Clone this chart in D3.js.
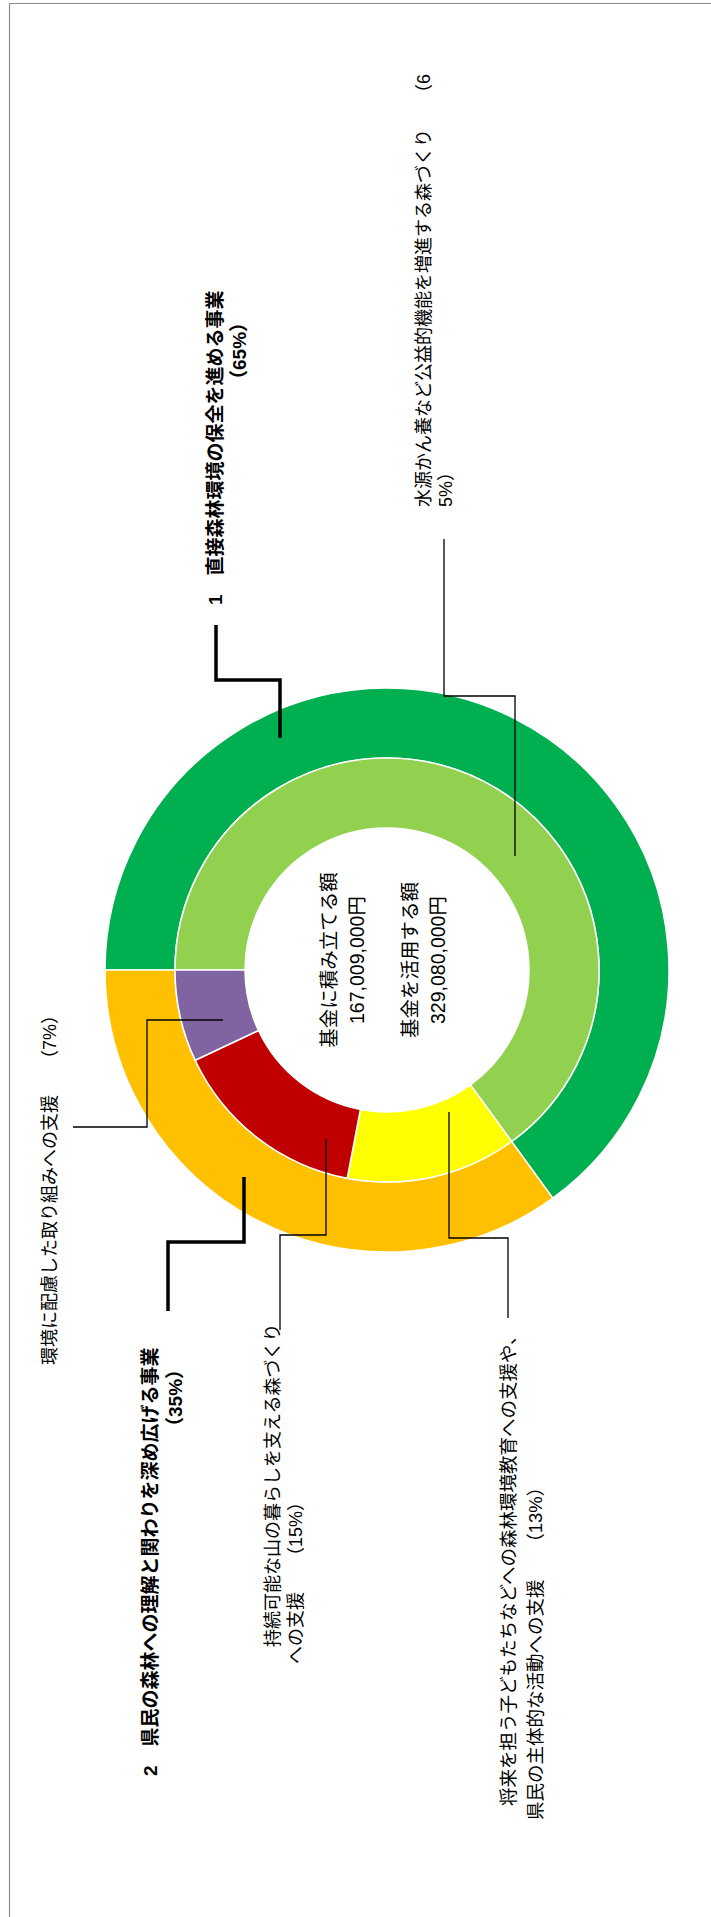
<!DOCTYPE html>
<html>
<head>
<meta charset="utf-8">
<script src="https://cdn.jsdelivr.net/npm/d3@7"></script>
<style>
  body { margin: 0; background: #fff; }
  svg { display: block; }
</style>
</head>
<body>
<div id="chart"></div>
<script>
// outer ring - the two main programmes
const outerNames = ["1　直接森林環境の保全を進める事業", "2　県民の森林への理解と関わりを深め広げる事業"];
const outerShares = [65, 35];
const outerColors = ["#00B050", "#FFC000"];

// inner ring - the individual items
const innerNames = [
  "水源かん養など公益的機能を増進する森づくり",
  "将来を担う子どもたちなどへの森林環境教育への支援や、県民の主体的な活動への支援",
  "持続可能な山の暮らしを支える森づくりへの支援",
  "環境に配慮した取り組みへの支援"
];
const innerShares = [65, 13, 15, 7];
const innerColors = ["#92D050", "#FFFF00", "#C00000", "#8064A2"];

// text in the hole
const centerLabels = ["基金に積み立てる額", "基金を活用する額"];
const centerAmounts = ["167,009,000円", "329,080,000円"];

const pageW = 711, pageH = 1917;
// chart is drawn landscape then turned a quarter turn (like the scanned page)
const cx = 947, cy = 387;
const rHole = 142, rMid = 212, rOuter = 282;
const font = "'Liberation Sans', 'Noto Sans CJK JP', sans-serif";

// label placement, in the landscape frame (before rotating)
const outerLayout = [
  { lines: [[1312, 222], [1528, 246]], leader: [[1292, 216], [1237, 216], [1237, 280], [1179, 280]] },
  { lines: [[141, 157], [481, 182]], leader: [[606, 168], [675, 168], [675, 244], [740, 244]] }
];
const innerLayout = [
  { split: 25, size: 18, lines: [[1410, 430], [1410, 452]], leader: [[1378, 444], [1221, 444], [1221, 515], [1061, 515]] },
  { split: 26, size: 18.5, lines: [[111, 515], [97, 542]], leader: [[599, 508], [679, 508], [679, 449], [805, 449]] },
  { split: 18, size: 18, lines: [[270, 279], [253, 302]], leader: [[587, 280], [682, 280], [682, 326], [778, 326]] },
  { split: 0, size: 18, lines: [[552, 56]], leader: [[790, 73], [790, 147], [897, 147], [897, 223]] }
];

const svg = d3.select("#chart").append("svg")
  .attr("width", pageW)
  .attr("height", pageH);

// page frame
svg.append("path")
  .attr("d", `M9.5,${pageH} V3.5 H${pageW}`)
  .attr("fill", "none")
  .attr("stroke", "#8c8c8c")
  .attr("stroke-width", 1.2);

const g = svg.append("g")
  .attr("transform", `translate(0,${pageH}) rotate(-90)`);

const pie = d3.pie().sort(null).value(d => d);
const outerArc = d3.arc().innerRadius(rMid).outerRadius(rOuter);
const innerArc = d3.arc().innerRadius(rHole).outerRadius(rMid);

const donut = g.append("g").attr("transform", `translate(${cx},${cy})`);

donut.selectAll("path.outer")
  .data(pie(outerShares))
  .join("path")
  .attr("class", "outer")
  .attr("d", outerArc)
  .attr("fill", (d, i) => outerColors[i])
  .attr("stroke", "#fff")
  .attr("stroke-width", 1.5);

donut.selectAll("path.inner")
  .data(pie(innerShares))
  .join("path")
  .attr("class", "inner")
  .attr("d", innerArc)
  .attr("fill", (d, i) => innerColors[i])
  .attr("stroke", "#fff")
  .attr("stroke-width", 1.5);

// centre text
const centerRows = [
  [centerLabels[0], 336], [centerAmounts[0], 364],
  [centerLabels[1], 417], [centerAmounts[1], 445]
];
g.selectAll("text.center")
  .data(centerRows)
  .join("text")
  .attr("class", "center")
  .attr("x", cx + 10)
  .attr("y", d => d[1])
  .attr("text-anchor", "middle")
  .attr("font-family", font)
  .attr("font-size", 19.5)
  .attr("fill", "#000")
  .text(d => d[0]);

const line = d3.line();

// outer (bold) labels
outerNames.forEach((name, i) => {
  const lay = outerLayout[i];
  const texts = [name, `（${outerShares[i]}%）`];
  texts.forEach((t, j) => {
    g.append("text")
      .attr("x", lay.lines[j][0])
      .attr("y", lay.lines[j][1])
      .attr("font-family", font)
      .attr("font-weight", "bold")
      .attr("font-size", 19)
      .attr("fill", "#000")
      .text(t);
  });
  g.append("path")
    .attr("d", line(lay.leader))
    .attr("fill", "none")
    .attr("stroke", "#000")
    .attr("stroke-width", 3.5);
});

// inner labels, wrapped where the original text box wrapped
innerNames.forEach((name, i) => {
  const lay = innerLayout[i];
  const full = `${name}　　（${innerShares[i]}%）`;
  const texts = lay.split ? [full.slice(0, lay.split), full.slice(lay.split)] : [full];
  texts.forEach((t, j) => {
    g.append("text")
      .attr("x", lay.lines[j][0])
      .attr("y", lay.lines[j][1])
      .attr("font-family", font)
      .attr("font-size", lay.size)
      .attr("fill", "#000")
      .text(t);
  });
  g.append("path")
    .attr("d", line(lay.leader))
    .attr("fill", "none")
    .attr("stroke", "#000")
    .attr("stroke-width", 1.3);
});
</script>
</body>
</html>
